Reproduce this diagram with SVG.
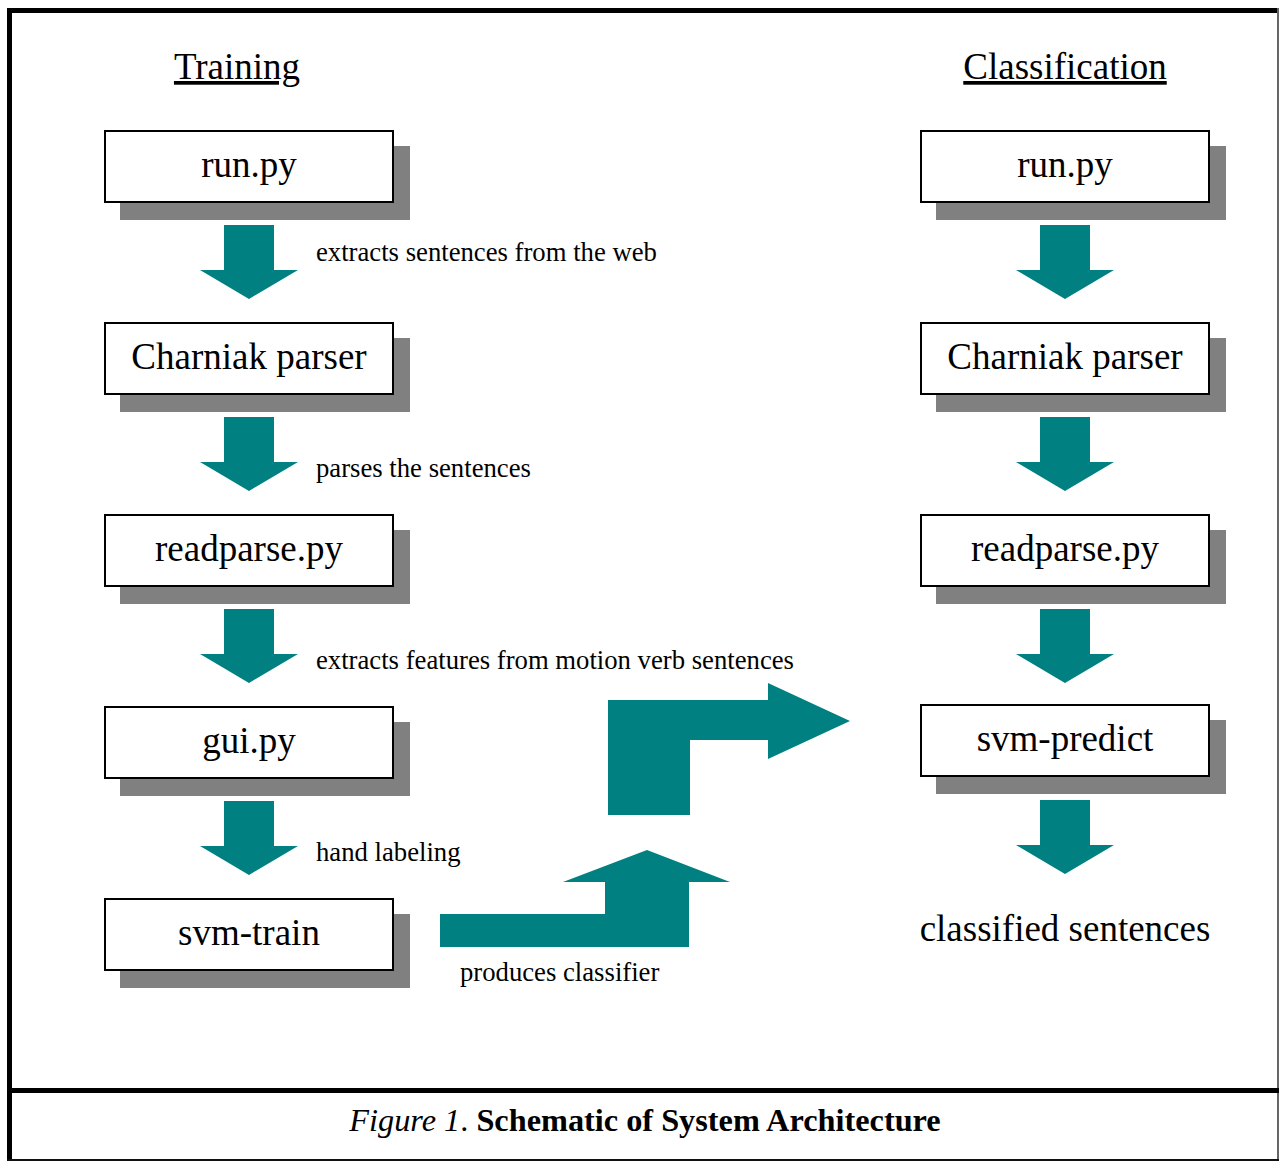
<svg xmlns="http://www.w3.org/2000/svg" width="1279" height="1161" viewBox="0 0 1279 1161">
<style>
.shadow{fill:#808080}
.box{fill:#fff;stroke:#000;stroke-width:2}
.txt{font-family:"Liberation Serif","Times New Roman",serif;font-size:37px;fill:#000;text-anchor:middle}
.lbl{font-family:"Liberation Serif","Times New Roman",serif;font-size:26.7px;fill:#000}
.arr{fill:#008080}
.title{font-family:"Liberation Serif","Times New Roman",serif;font-size:37px;fill:#000;text-anchor:middle;text-decoration:underline}
.cap{font-family:"Liberation Serif","Times New Roman",serif;font-size:32.3px;fill:#000;text-anchor:middle}
</style>
<defs>
<polygon id="down" class="arr" points="-25,0 25,0 25,45 49,45 0,74 -49,45 -25,45"/>
</defs>
<rect x="0" y="0" width="1279" height="1161" fill="#fff"/>
<g id="frame">
<rect x="7" y="8" width="1271" height="5" fill="#000"/>
<rect x="7" y="8" width="5" height="1152" fill="#000"/>
<rect x="1277" y="8" width="2" height="1153" fill="#666"/>
<rect x="7" y="1088" width="1272" height="5" fill="#000"/>
<rect x="7" y="1159" width="1272" height="2" fill="#111"/>
</g>
<g id="titles">
<text class="title" x="237" y="79">Training</text>
<text class="title" x="1065" y="79">Classification</text>
</g>
<g id="t-run">
<rect class="shadow" x="120" y="146" width="290" height="74"/>
<rect class="box" x="105" y="131" width="288" height="71"/>
<text class="txt" x="249" y="177">run.py</text>
</g>
<g id="t-charniak">
<rect class="shadow" x="120" y="338" width="290" height="74"/>
<rect class="box" x="105" y="323" width="288" height="71"/>
<text class="txt" x="249" y="369">Charniak parser</text>
</g>
<g id="t-readparse">
<rect class="shadow" x="120" y="530" width="290" height="74"/>
<rect class="box" x="105" y="515" width="288" height="71"/>
<text class="txt" x="249" y="561">readparse.py</text>
</g>
<g id="t-gui">
<rect class="shadow" x="120" y="722" width="290" height="74"/>
<rect class="box" x="105" y="707" width="288" height="71"/>
<text class="txt" x="249" y="753">gui.py</text>
</g>
<g id="t-svmtrain">
<rect class="shadow" x="120" y="914" width="290" height="74"/>
<rect class="box" x="105" y="899" width="288" height="71"/>
<text class="txt" x="249" y="945">svm-train</text>
</g>
<g id="c-run">
<rect class="shadow" x="936" y="146" width="290" height="74"/>
<rect class="box" x="921" y="131" width="288" height="71"/>
<text class="txt" x="1065" y="177">run.py</text>
</g>
<g id="c-charniak">
<rect class="shadow" x="936" y="338" width="290" height="74"/>
<rect class="box" x="921" y="323" width="288" height="71"/>
<text class="txt" x="1065" y="369">Charniak parser</text>
</g>
<g id="c-readparse">
<rect class="shadow" x="936" y="530" width="290" height="74"/>
<rect class="box" x="921" y="515" width="288" height="71"/>
<text class="txt" x="1065" y="561">readparse.py</text>
</g>
<g id="c-svmpredict">
<rect class="shadow" x="936" y="720" width="290" height="74"/>
<rect class="box" x="921" y="705" width="288" height="71"/>
<text class="txt" x="1065" y="751">svm-predict</text>
</g>
<g id="c-classified">
<text class="txt" x="1065" y="941">classified sentences</text>
</g>
<g id="connectors">
<use href="#down" x="249" y="225"/>
<use href="#down" x="249" y="417"/>
<use href="#down" x="249" y="609"/>
<use href="#down" x="249" y="801"/>
<use href="#down" x="1065" y="225"/>
<use href="#down" x="1065" y="417"/>
<use href="#down" x="1065" y="609"/>
<use href="#down" x="1065" y="800"/>
<polygon class="arr" points="440,947 440,914 605,914 605,882 563,882 647,850 730,882 689,882 689,947"/>
<polygon class="arr" points="608,815 608,700 768,700 768,683 850,721 768,759 768,740 690,740 690,815"/>
<text class="lbl" x="316" y="261">extracts sentences from the web</text>
<text class="lbl" x="316" y="477">parses the sentences</text>
<text class="lbl" x="316" y="669">extracts features from motion verb sentences</text>
<text class="lbl" x="316" y="861">hand labeling</text>
<text class="lbl" x="460" y="981">produces classifier</text>
</g>
<g id="caption">
<text class="cap" x="645" y="1131"><tspan font-style="italic">Figure 1</tspan>. <tspan font-weight="bold">Schematic of System Architecture</tspan></text>
</g>
</svg>
